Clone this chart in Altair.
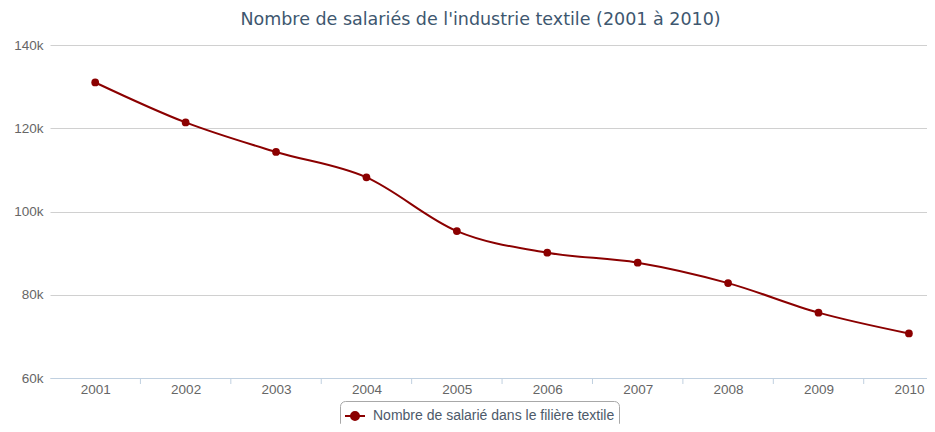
import altair as alt
import pandas as pd

years = [2001, 2002, 2003, 2004, 2005, 2006, 2007, 2008, 2009, 2010]
salaries = [131000, 121400, 114300, 108200, 95300, 90100, 87700, 82800, 75700, 70700]
series_name = "Nombre de salarié dans le filière textile"
title_text = "Nombre de salariés de l'industrie textile (2001 à 2010)"
y_ticks = [60000, 80000, 100000, 120000, 140000]

df = pd.DataFrame({"Année": years, "Salariés": salaries, "Série": [series_name] * len(years)})
bounds = pd.DataFrame({"b": [y + 0.5 for y in years[:-1]]})

FONT = "Liberation Sans"
W, H = 877, 333
xscale = alt.Scale(domain=[2000.5, 2010.2], nice=False, zero=False)
xaxis = alt.Axis(values=years, format="d", title=None, grid=False, ticks=False,
                 domainColor="#C0D0E0", domainWidth=1, labelPadding=4,
                 labelFont=FONT, labelFontSize=13.5, labelColor="#666666")

sym_path = "M-1,0 L1,0 M-0.4,0 A0.4,0.4 0 1,1 0.4,0 A0.4,0.4 0 1,1 -0.4,0 Z"

line = alt.Chart(df).mark_line(
    interpolate="monotone", strokeWidth=2,
    point=alt.OverlayMarkDef(filled=True, size=60, color="#990000", opacity=1),
).encode(
    x=alt.X("Année:Q", scale=xscale, axis=xaxis),
    y=alt.Y("Salariés:Q", scale=alt.Scale(domain=[60000, 140000], nice=False),
            axis=alt.Axis(values=y_ticks, format="~s", title=None, domain=False, ticks=False,
                          gridColor="#D0D0D0", gridWidth=1, labelPadding=7,
                          labelFont=FONT, labelFontSize=13.5, labelColor="#666666")),
    color=alt.Color("Série:N", scale=alt.Scale(range=["#8B0000"]),
                    legend=alt.Legend(title=None, orient="none", legendX=290, legendY=356,
                                      symbolType=sym_path, symbolSize=400,
                                      symbolStrokeWidth=2, symbolFillColor="#990000",
                                      symbolStrokeColor="#8B0000", labelOffset=7,
                                      labelLimit=0,
                                      labelFont=FONT, labelFontSize=14, labelColor="#4D5A6A",
                                      padding=4, strokeColor="#A8A8A8", cornerRadius=5,
                                      fillColor="white")),
)

ticks = alt.Chart(bounds).mark_rule(color="#C0D0E0", strokeWidth=1).encode(
    x=alt.X("b:Q", scale=xscale, axis=xaxis),
    y=alt.value(H),
    y2=alt.value(H + 6),
)

chart = alt.layer(line, ticks).properties(
    width=W, height=H,
    padding={"left": 42, "top": 37, "right": 0, "bottom": 46},
    autosize=alt.AutoSizeParams(type="none"),
    title=alt.TitleParams(title_text, font="DejaVu Sans", fontSize=17.5, fontWeight="normal",
                          color="#3E576F", anchor="middle", dx=-8, offset=10),
).configure_view(stroke=None)

chart.save("out.html", embed_options={"renderer": "svg", "actions": False})
